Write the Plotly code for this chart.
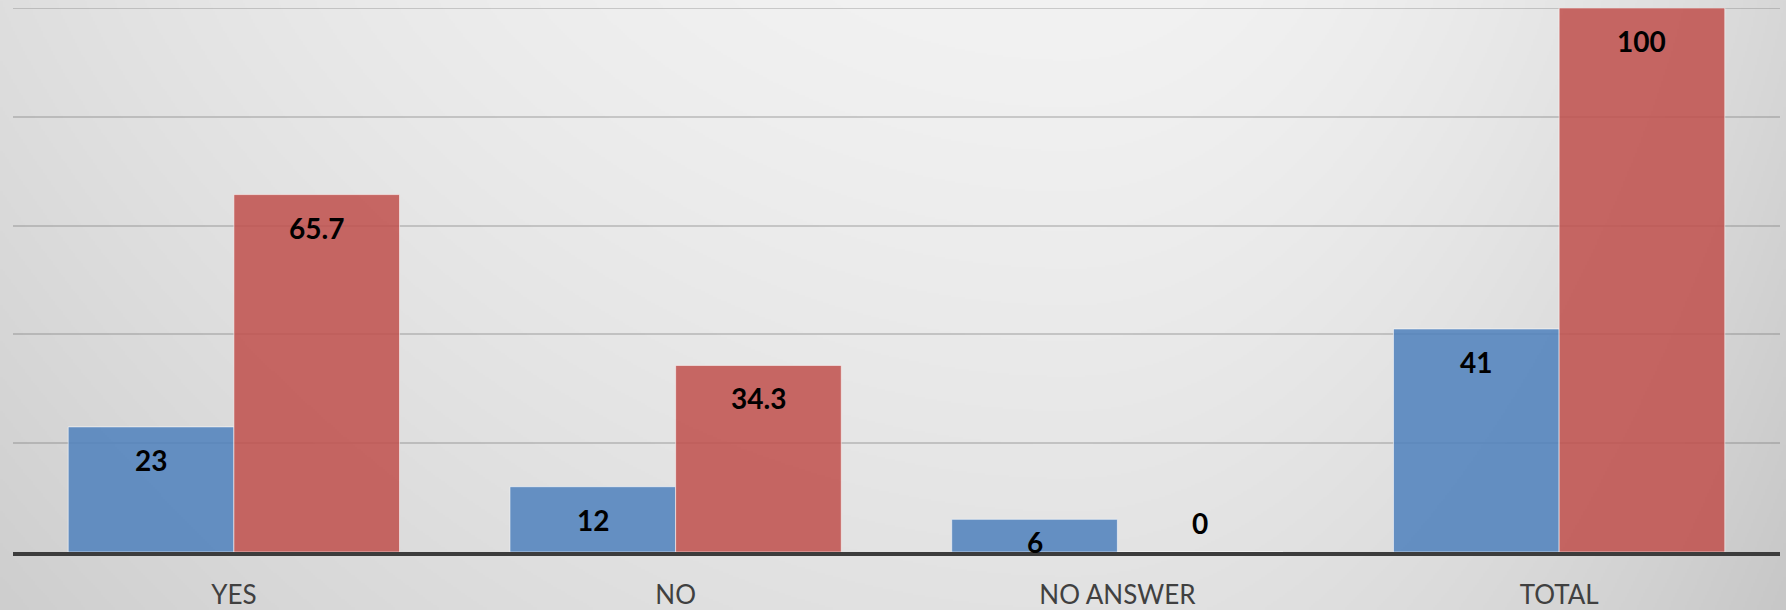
import base64
import struct
import zlib

import numpy as np
import plotly.graph_objects as go

# Survey results: counts and percentages per answer
categories = ["YES", "NO", "NO ANSWER", "TOTAL"]
counts = [23, 12, 6, 41]
percentages = [65.7, 34.3, 0, 100]

W, H = 1786, 610
M_L, M_R, M_T, M_B = 13, 6, 8, 58
PLOT_W = W - M_L - M_R
PLOT_H = H - M_T - M_B
Y_MAX = 100
PX_PER_UNIT = PLOT_H / Y_MAX
GRID_COLOR = "rgba(110,110,110,0.30)"


def gradient_png(width, height):
    """Soft grey background: light near the top centre, darker towards the edges."""
    xs = np.linspace(0.0, 1.0, width)
    ys = np.linspace(0.0, 1.0, height)
    cx = 0.6
    hx = np.where(xs < cx, 20.0 * ((cx - xs) / cx) ** 2, 27.0 * ((xs - cx) / (1 - cx)) ** 2)
    vy = 16.0 * ys ** 1.2
    img = 242.0 - hx[None, :] - vy[:, None]
    img = np.clip(img, 0, 255).astype(np.uint8)
    raw = b"".join(b"\x00" + img[r].tobytes() for r in range(height))

    def chunk(tag, data):
        return (struct.pack(">I", len(data)) + tag + data
                + struct.pack(">I", zlib.crc32(tag + data) & 0xFFFFFFFF))

    png = (b"\x89PNG\r\n\x1a\n"
           + chunk(b"IHDR", struct.pack(">IIBBBBB", width, height, 8, 0, 0, 0, 0))
           + chunk(b"IDAT", zlib.compress(raw, 9))
           + chunk(b"IEND", b""))
    return "data:image/png;base64," + base64.b64encode(png).decode("ascii")


BLUE = "rgba(79,129,189,0.86)"
RED = "rgba(192,80,77,0.86)"
EDGE = dict(color="rgba(255,255,255,0.55)", width=1)

fig = go.Figure()
fig.add_trace(go.Bar(x=categories, y=counts, name="Count",
                     marker=dict(color=BLUE, line=EDGE), hoverinfo="skip"))
fig.add_trace(go.Bar(x=categories, y=percentages, name="Percent",
                     marker=dict(color=RED, line=EDGE), hoverinfo="skip"))

BARGAP = 0.25
half_bar = (1 - BARGAP) / 4  # offset of each bar centre from its category centre


def label_shift(value):
    """Inside-end label; short bars keep the label above the axis, zero sits on top."""
    if value == 0:
        return 29
    return max(-33, 10 - value * PX_PER_UNIT)


annotations = []
for i, (c, p) in enumerate(zip(counts, percentages)):
    for val, off in ((c, -half_bar), (p, half_bar)):
        annotations.append(dict(
            x=i + off, y=val, xref="x", yref="y",
            text=f"{val:g}", showarrow=False,
            yanchor="middle", yshift=label_shift(val),
            font=dict(family="Lato", size=28, color="#000000", weight=700),
        ))

fig.update_layout(
    width=W, height=H,
    margin=dict(l=M_L, r=M_R, t=M_T, b=M_B, pad=0, autoexpand=False),
    barmode="group", bargap=BARGAP, bargroupgap=0,
    showlegend=False,
    paper_bgcolor="#dcdcdc",
    plot_bgcolor="rgba(0,0,0,0)",
    annotations=annotations,
    # top gridline at the axis maximum
    shapes=[dict(type="line", xref="paper", yref="y", x0=0, x1=1, y0=Y_MAX, y1=Y_MAX,
                 line=dict(color=GRID_COLOR, width=2), layer="below")],
    images=[dict(
        source=gradient_png(893, 305),
        xref="paper", yref="paper",
        x=-M_L / PLOT_W, y=1 + M_T / PLOT_H,
        sizex=W / PLOT_W, sizey=H / PLOT_H,
        xanchor="left", yanchor="top",
        sizing="stretch", layer="below",
    )],
    xaxis=dict(
        type="category", automargin=False,
        showline=True, linecolor="#3c3c3c", linewidth=3.5,
        showgrid=False, ticks="", ticklabelstandoff=17,
        tickfont=dict(family="Lato", size=26, color="#404040"),
    ),
    yaxis=dict(
        range=[0, Y_MAX], dtick=20, automargin=False,
        showgrid=True, gridcolor=GRID_COLOR, gridwidth=2,
        zeroline=False, showticklabels=False, ticks="", showline=False,
    ),
)

fig.write_html("out.html")
